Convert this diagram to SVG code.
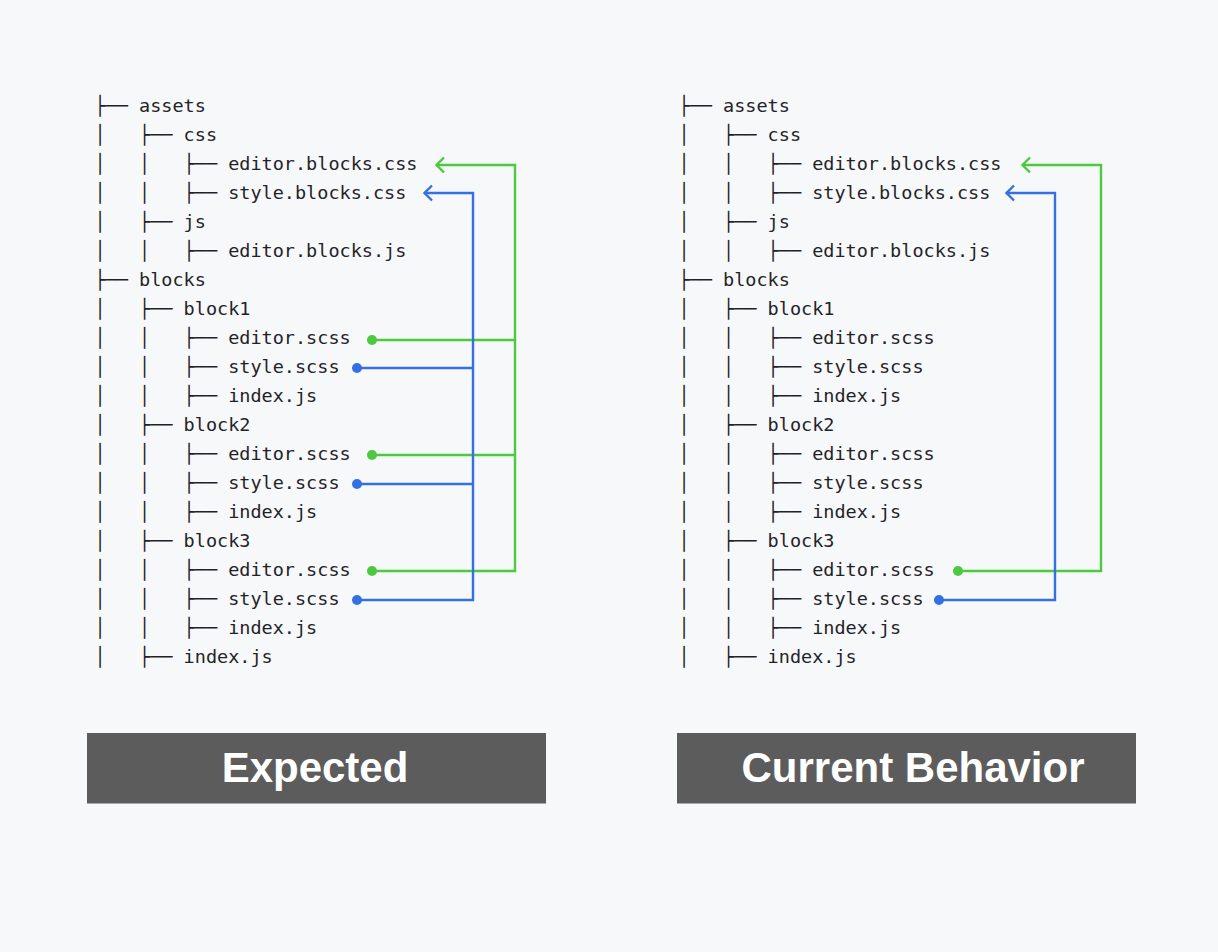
<svg xmlns="http://www.w3.org/2000/svg" width="1218" height="952" viewBox="0 0 1218 952">
<style>
.t{font-family:"DejaVu Sans Mono","Liberation Mono",monospace;font-size:18.5px;fill:#1f2328;white-space:pre}
.g{stroke:#4cc93e;fill:none;stroke-width:2.4}
.b{stroke:#3570e2;fill:none;stroke-width:2.4}
.gd{fill:#4cc93e}
.bd{fill:#3570e2}
.lab{fill:#5c5c5c}
.lt{font-family:"Liberation Sans",Arial,sans-serif;font-weight:bold;font-size:42px;fill:#ffffff;text-anchor:middle}
</style>
<rect width="1218" height="952" fill="#f7f8fa"/>
<g id="tree-expected" xml:space="preserve">
<text class="t" x="94.5" y="111.5">├── assets</text>
<text class="t" x="94.5" y="140.5">│   ├── css</text>
<text class="t" x="94.5" y="169.5">│   │   ├── editor.blocks.css</text>
<text class="t" x="94.5" y="198.5">│   │   ├── style.blocks.css</text>
<text class="t" x="94.5" y="227.5">│   ├── js</text>
<text class="t" x="94.5" y="256.5">│   │   ├── editor.blocks.js</text>
<text class="t" x="94.5" y="285.5">├── blocks</text>
<text class="t" x="94.5" y="314.5">│   ├── block1</text>
<text class="t" x="94.5" y="343.5">│   │   ├── editor.scss</text>
<text class="t" x="94.5" y="372.5">│   │   ├── style.scss</text>
<text class="t" x="94.5" y="401.5">│   │   ├── index.js</text>
<text class="t" x="94.5" y="430.5">│   ├── block2</text>
<text class="t" x="94.5" y="459.5">│   │   ├── editor.scss</text>
<text class="t" x="94.5" y="488.5">│   │   ├── style.scss</text>
<text class="t" x="94.5" y="517.5">│   │   ├── index.js</text>
<text class="t" x="94.5" y="546.5">│   ├── block3</text>
<text class="t" x="94.5" y="575.5">│   │   ├── editor.scss</text>
<text class="t" x="94.5" y="604.5">│   │   ├── style.scss</text>
<text class="t" x="94.5" y="633.5">│   │   ├── index.js</text>
<text class="t" x="94.5" y="662.5">│   ├── index.js</text>
</g>
<g id="tree-current" xml:space="preserve">
<text class="t" x="678.5" y="111.5">├── assets</text>
<text class="t" x="678.5" y="140.5">│   ├── css</text>
<text class="t" x="678.5" y="169.5">│   │   ├── editor.blocks.css</text>
<text class="t" x="678.5" y="198.5">│   │   ├── style.blocks.css</text>
<text class="t" x="678.5" y="227.5">│   ├── js</text>
<text class="t" x="678.5" y="256.5">│   │   ├── editor.blocks.js</text>
<text class="t" x="678.5" y="285.5">├── blocks</text>
<text class="t" x="678.5" y="314.5">│   ├── block1</text>
<text class="t" x="678.5" y="343.5">│   │   ├── editor.scss</text>
<text class="t" x="678.5" y="372.5">│   │   ├── style.scss</text>
<text class="t" x="678.5" y="401.5">│   │   ├── index.js</text>
<text class="t" x="678.5" y="430.5">│   ├── block2</text>
<text class="t" x="678.5" y="459.5">│   │   ├── editor.scss</text>
<text class="t" x="678.5" y="488.5">│   │   ├── style.scss</text>
<text class="t" x="678.5" y="517.5">│   │   ├── index.js</text>
<text class="t" x="678.5" y="546.5">│   ├── block3</text>
<text class="t" x="678.5" y="575.5">│   │   ├── editor.scss</text>
<text class="t" x="678.5" y="604.5">│   │   ├── style.scss</text>
<text class="t" x="678.5" y="633.5">│   │   ├── index.js</text>
<text class="t" x="678.5" y="662.5">│   ├── index.js</text>
</g>
<g id="connectors">
<path class="g" d="M372,340H515M372,455H515M372,571H515V165H436"/>
<path class="g" d="M444,157.5L436.5,165L444,172.5"/>
<circle class="gd" cx="372" cy="340" r="5"/>
<circle class="gd" cx="372" cy="455" r="5"/>
<circle class="gd" cx="372" cy="571" r="5"/>
<path class="b" d="M357,368H473M357,484H473M357,600H473V193H424"/>
<path class="b" d="M432,185.5L424.5,193L432,200.5"/>
<circle class="bd" cx="357" cy="368" r="5"/>
<circle class="bd" cx="357" cy="484" r="5"/>
<circle class="bd" cx="357" cy="600" r="5"/>
<path class="g" d="M958,571H1101V165H1022"/>
<path class="g" d="M1030,157.5L1022.5,165L1030,172.5"/>
<circle class="gd" cx="958" cy="571" r="5"/>
<path class="b" d="M939,600H1055V193H1006"/>
<path class="b" d="M1014,185.5L1006.5,193L1014,200.5"/>
<circle class="bd" cx="939" cy="600" r="5"/>
</g>
<g id="label-expected">
<rect class="lab" x="87" y="733" width="459" height="70.5"/>
<text class="lt" x="315" y="782">Expected</text>
</g>
<g id="label-current">
<rect class="lab" x="677" y="733" width="459" height="70.5"/>
<text class="lt" x="913" y="782">Current Behavior</text>
</g>
</svg>
